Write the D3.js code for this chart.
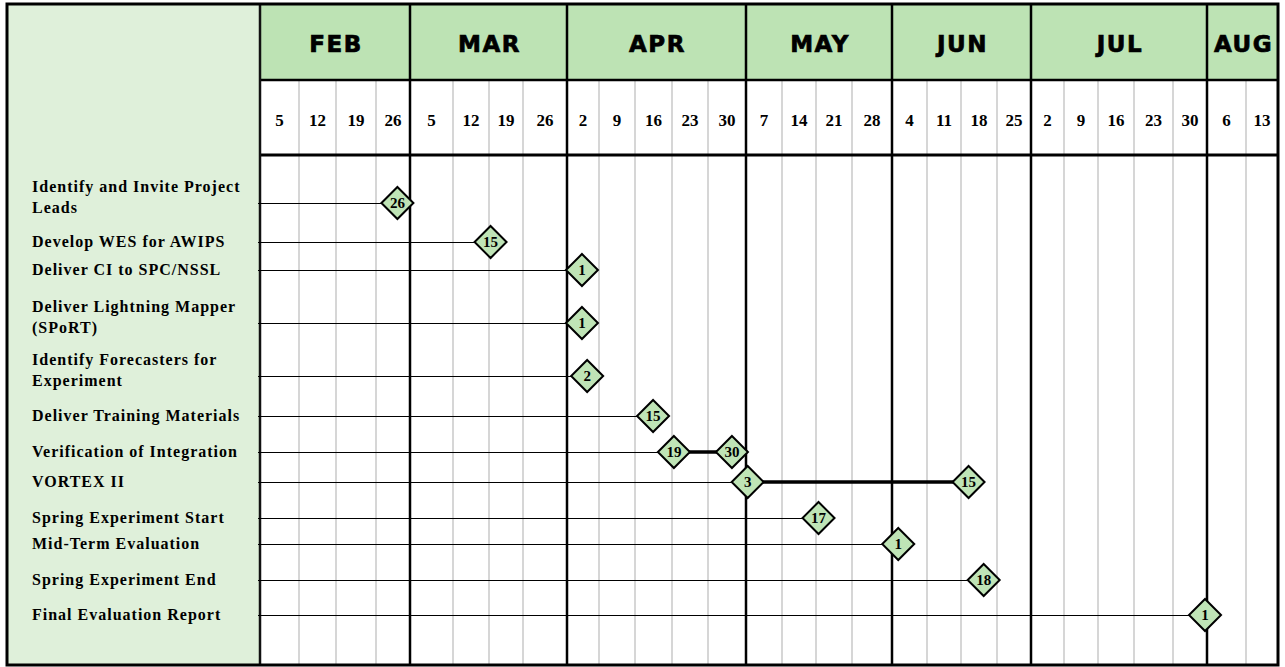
<!DOCTYPE html>
<html>
<head>
<meta charset="utf-8">
<script src="https://cdn.jsdelivr.net/npm/d3@7"></script>
<style>
  html, body { margin: 0; padding: 0; background: #ffffff; }
  svg { display: block; }
</style>
</head>
<body>
<svg id="chart" width="1285" height="667"></svg>
<script>
// ---------------- DATA ----------------
const monthNames = ["FEB", "MAR", "APR", "MAY", "JUN", "JUL", "AUG"];
const weekDates = [
  "2010-02-05", "2010-02-12", "2010-02-19", "2010-02-26",
  "2010-03-05", "2010-03-12", "2010-03-19", "2010-03-26",
  "2010-04-02", "2010-04-09", "2010-04-16", "2010-04-23", "2010-04-30",
  "2010-05-07", "2010-05-14", "2010-05-21", "2010-05-28",
  "2010-06-04", "2010-06-11", "2010-06-18", "2010-06-25",
  "2010-07-02", "2010-07-09", "2010-07-16", "2010-07-23", "2010-07-30",
  "2010-08-06", "2010-08-13"
];
const tasks = [
  "Identify and Invite Project Leads",
  "Develop WES for AWIPS",
  "Deliver CI to SPC/NSSL",
  "Deliver Lightning Mapper (SPoRT)",
  "Identify Forecasters for Experiment",
  "Deliver Training Materials",
  "Verification of Integration",
  "VORTEX II",
  "Spring Experiment Start",
  "Mid-Term Evaluation",
  "Spring Experiment End",
  "Final Evaluation Report"
];
const startDates = [
  "2010-02-26", "2010-03-15", "2010-04-01", "2010-04-01", "2010-04-02",
  "2010-04-15", "2010-04-19", "2010-05-03", "2010-05-17", "2010-06-01",
  "2010-06-18", "2010-08-01"
];
const endDates = [
  null, null, null, null, null,
  null, "2010-04-30", "2010-06-15", null, null,
  null, null
];

// ---------------- LAYOUT (table geometry) ----------------
const colWidths = [39, 37, 40, 34, 43, 36, 34, 44, 32, 36, 37, 36, 38,
                   36, 34, 36, 40, 35, 34, 36, 34, 33, 34, 36, 39, 34, 39, 32];
const rowGaps = [48, 39, 28, 53, 53, 40, 36, 30, 36, 26, 36, 35];
const box = { left: 7, top: 4, right: 1278, bottom: 665 };
const panelRight = 260, headerBottom = 80, weekRowBottom = 155;
const dateAnchor = 0.63; // where a week's start date falls inside its column

const C = {
  panel: "#dff0da",
  header: "#bde3b4",
  diamond: "#bfe4b6",
  weekLine: "#c9c9c9"
};

// ---------------- SCALES ----------------
const parse = d3.timeParse("%Y-%m-%d");
const weeks = weekDates.map(parse);
const edges = [panelRight];
colWidths.forEach(w => edges.push(edges[edges.length - 1] + w));
const centers = colWidths.map((w, i) => edges[i] + w / 2);
const anchors = colWidths.map((w, i) => edges[i] + w * dateAnchor);

// piecewise time scale: each week's date -> its anchor inside the column
const x = d3.scaleTime().domain(weeks).range(anchors);

const rowY = [];
rowGaps.reduce((acc, g) => { const v = acc + g; rowY.push(v); return v; }, weekRowBottom);
const y = d3.scaleOrdinal().domain(tasks).range(rowY);

const svg = d3.select("#chart");

// ---------------- BACKGROUNDS ----------------
svg.append("rect").attr("x", box.left).attr("y", box.top)
  .attr("width", panelRight - box.left).attr("height", box.bottom - box.top)
  .attr("fill", C.panel);
svg.append("rect").attr("x", panelRight).attr("y", box.top)
  .attr("width", box.right - panelRight).attr("height", headerBottom - box.top)
  .attr("fill", C.header);
svg.append("rect").attr("x", panelRight).attr("y", headerBottom)
  .attr("width", box.right - panelRight).attr("height", box.bottom - headerBottom)
  .attr("fill", "#ffffff");

// month groups
const months = [];
weeks.forEach((d, i) => {
  const m = d.getMonth();
  const last = months[months.length - 1];
  if (!last || last.m !== m) months.push({ m, first: i, last: i });
  else last.last = i;
});
months.forEach((mo, k) => { mo.name = monthNames[k]; mo.x0 = edges[mo.first]; mo.x1 = edges[mo.last + 1]; });

// week grid lines (light grey)
const monthStartIdx = new Set(months.map(m => m.first));
svg.append("g").selectAll("line")
  .data(d3.range(1, weeks.length).filter(i => !monthStartIdx.has(i)))
  .join("line")
  .attr("x1", i => edges[i]).attr("x2", i => edges[i])
  .attr("y1", headerBottom).attr("y2", box.bottom)
  .attr("stroke", C.weekLine).attr("stroke-width", 1.5);

// month boundaries (black)
svg.append("g").selectAll("line")
  .data(months.slice(1))
  .join("line")
  .attr("x1", d => d.x0).attr("x2", d => d.x0)
  .attr("y1", box.top).attr("y2", box.bottom)
  .attr("stroke", "#000").attr("stroke-width", 2.5);

// header horizontals
svg.append("line").attr("x1", panelRight).attr("x2", box.right)
  .attr("y1", headerBottom).attr("y2", headerBottom)
  .attr("stroke", "#000").attr("stroke-width", 2.5);
svg.append("line").attr("x1", panelRight).attr("x2", box.right)
  .attr("y1", weekRowBottom).attr("y2", weekRowBottom)
  .attr("stroke", "#000").attr("stroke-width", 3);

// panel edge
svg.append("line").attr("x1", panelRight).attr("x2", panelRight)
  .attr("y1", box.top).attr("y2", box.bottom)
  .attr("stroke", "#111").attr("stroke-width", 2.5);

// month labels
svg.append("g").selectAll("text")
  .data(months)
  .join("text")
  .attr("x", d => (d.x0 + d.x1) / 2 + 1)
  .attr("y", 52)
  .attr("text-anchor", "middle")
  .attr("font-family", "DejaVu Sans, sans-serif")
  .attr("font-weight", "bold")
  .attr("font-size", 23)
  .attr("letter-spacing", 1.5)
  .attr("fill", "#000")
  .attr("stroke", "#000")
  .attr("stroke-width", 0.7)
  .text(d => d.name);

// week labels
svg.append("g").selectAll("text")
  .data(weeks)
  .join("text")
  .attr("x", (d, i) => centers[i])
  .attr("y", 126)
  .attr("text-anchor", "middle")
  .attr("font-family", "Liberation Serif, Times New Roman, serif")
  .attr("font-weight", "bold")
  .attr("font-size", 17)
  .attr("fill", "#000")
  .text(d => d.getDate());

// ---------------- TASK ROWS ----------------
const rows = tasks.map((t, i) => ({
  task: t,
  start: parse(startDates[i]),
  end: endDates[i] ? parse(endDates[i]) : null
}));
const half = 16;

// connectors
svg.append("g").selectAll("line")
  .data(rows)
  .join("line")
  .attr("x1", panelRight - 2)
  .attr("x2", d => x(d.start) - half)
  .attr("y1", d => y(d.task) + 0.5).attr("y2", d => y(d.task) + 0.5)
  .attr("stroke", "#000").attr("stroke-width", 1.2);

// duration bars
svg.append("g").selectAll("line")
  .data(rows.filter(d => d.end))
  .join("line")
  .attr("x1", d => x(d.start)).attr("x2", d => x(d.end))
  .attr("y1", d => y(d.task)).attr("y2", d => y(d.task))
  .attr("stroke", "#000").attr("stroke-width", 3.5);

// diamonds
const points = [];
rows.forEach(d => {
  points.push({ task: d.task, date: d.start });
  if (d.end) points.push({ task: d.task, date: d.end });
});
const dg = svg.append("g").selectAll("g")
  .data(points)
  .join("g")
  .attr("transform", d => `translate(${x(d.date)},${y(d.task)})`);
dg.append("path")
  .attr("d", `M0,${-half}L${half},0L0,${half}L${-half},0Z`)
  .attr("fill", C.diamond).attr("stroke", "#000").attr("stroke-width", 2);
dg.append("text")
  .attr("text-anchor", "middle")
  .attr("y", 5)
  .attr("font-family", "Liberation Serif, Times New Roman, serif")
  .attr("font-weight", "bold")
  .attr("font-size", 15)
  .attr("fill", "#000")
  .text(d => d.date.getDate());

// task labels with wrapping
const labelX = 32, maxW = 224;
const lg = svg.append("g")
  .attr("font-family", "Liberation Serif, Times New Roman, serif")
  .attr("font-weight", "bold")
  .attr("font-size", 16)
  .attr("letter-spacing", 1)
  .attr("fill", "#000");
rows.forEach(d => {
  const words = d.task.split(" ");
  const lines = [];
  let cur = [];
  const probe = lg.append("text").attr("x", -1000).attr("y", -1000);
  words.forEach(w => {
    const test = cur.concat([w]).join(" ");
    probe.text(test);
    if (probe.node().getComputedTextLength() > maxW && cur.length) {
      lines.push(cur.join(" "));
      cur = [w];
    } else cur.push(w);
  });
  lines.push(cur.join(" "));
  probe.remove();
  const yy = y(d.task);
  const base = lines.length === 1 ? [yy + 5] : [yy - 11, yy + 10];
  lines.forEach((ln, k) => {
    lg.append("text").attr("x", labelX).attr("y", base[k]).text(ln);
  });
});

// outer border
svg.append("rect").attr("x", box.left).attr("y", box.top)
  .attr("width", box.right - box.left).attr("height", box.bottom - box.top)
  .attr("fill", "none").attr("stroke", "#000").attr("stroke-width", 3);
</script>
</body>
</html>
